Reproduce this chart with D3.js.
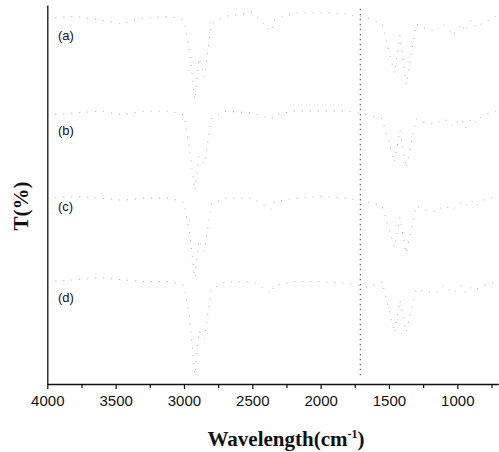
<!DOCTYPE html>
<html><head><meta charset="utf-8">
<script src="https://cdn.jsdelivr.net/npm/d3@7"></script>
<style>html,body{margin:0;padding:0;background:#fff;}svg{display:block;}</style>
</head><body><svg id="c" width="499" height="452"></svg>
<script>
// Wavenumbers (cm^-1) sampled along each spectrum
const wavenumbers = [4000,3800,3600,3450,3300,3100,3000,2960,2920,2890,2850,2800,2700,2500,2360,2340,2200,2000,1800,1740,1710,1650,1550,1460,1420,1375,1300,1250,1160,1100,1030,970,940,900,860,810,760,720,700];
// Stacked transmittance traces (arbitrary offset units)
const seriesA = [96.5,97,96,95,96.5,97,96,88,75,86,81,95,97,98,93,96,98,98,97.5,97,97,96.5,95,82,92,79,95,94,93,95,92,95,93,96,94,95.5,96,97,97];
const seriesB = [71,71.5,72,71,72,72,71,62,51,60,58,70,72,71.5,70,71,72,72,72,71.5,71.5,71,70,58.5,67,57,70,69,68.5,70,68,70,67.5,70,69,71,71.5,72,73];
const seriesC = [49,49.5,49,48.5,49,49,48,40,28,38,35,47.5,49,49,46,48,49,49.5,49,48.5,48.5,48,47,36,44,34.5,47,46,45.5,47,46,48,47,48.5,47,48.5,49,49.5,50];
const seriesD = [27,27.5,28,27.5,27,27,26,18,2.5,14,12,25,27,27,24,26,27,27,26.5,26,26,25.5,27,13.5,22,13.7,25,24.5,24,26,24,26,24,25.5,25,26,26.5,27,27];
const seriesNames = ["(a)","(b)","(c)","(d)"];
const labelLevels = [92, 67, 47, 23];
const majorTicks = [4000,3500,3000,2500,2000,1500,1000];
const minorTicks = [3750,3250,2750,2250,1750,1250,750];
const markerLine = [1710];

const svg = d3.select("#c");
const x = d3.scaleLinear().domain([4000,700]).range([47.3,498.3]);
const y = d3.scaleLinear().domain([0,100]).range([384,5]);

// spectra (faint, broken traces as in the scan)
const line = d3.line().x(d=>x(d[0])).y(d=>y(d[1]));
[seriesA,seriesB,seriesC,seriesD].forEach(s=>{
  svg.append("path").datum(wavenumbers.map((w,i)=>[w,s[i]]))
    .attr("d",line).attr("fill","none").attr("stroke","#a8a8a8")
    .attr("stroke-width",1).attr("stroke-dasharray","1,7");
});

// dotted marker line
svg.selectAll(".mk").data(markerLine).enter().append("line")
  .attr("x1",d=>x(d)).attr("x2",d=>x(d)).attr("y1",y(99)).attr("y2",y(2))
  .attr("stroke","#444").attr("stroke-width",1).attr("stroke-dasharray","1.5,3.5");

// series labels
svg.selectAll(".lab").data(seriesNames).enter().append("text")
  .attr("x",58).attr("y",(d,i)=>y(labelLevels[i])+5)
  .attr("font-family","Arial, Liberation Sans, sans-serif").attr("font-size",13)
  .attr("fill","#111").text(d=>d);

// bottom axis
const xAxis = d3.axisBottom(x).tickValues(majorTicks).tickSize(5).tickSizeOuter(0).tickPadding(6).tickFormat(d3.format("d"));
const gx = svg.append("g").attr("transform","translate(0,384)").call(xAxis);
gx.select(".domain").attr("stroke","#111").attr("stroke-width",1.3);
gx.selectAll(".tick line").attr("stroke","#111").attr("stroke-width",1.2);
gx.selectAll("text").attr("font-family","Arial, Liberation Sans, sans-serif").attr("font-size",15).attr("fill","#111");
const xMinor = d3.axisBottom(x).tickValues(minorTicks).tickSize(4).tickSizeOuter(0).tickFormat("");
const gm = svg.append("g").attr("transform","translate(0,384)").call(xMinor);
gm.select(".domain").remove();
gm.selectAll(".tick line").attr("stroke","#111").attr("stroke-width",1.2);

// left axis (no labels)
const yAxis = d3.axisLeft(y).tickValues([]).tickSizeOuter(0);
const gy = svg.append("g").attr("transform","translate(47.3,0)").call(yAxis);
gy.select(".domain").attr("stroke","#111").attr("stroke-width",1.3);

// axis titles
svg.append("text").attr("x",286).attr("y",446).attr("text-anchor","middle")
  .attr("font-family","Liberation Serif, Times New Roman, serif").attr("font-weight","bold").attr("font-size",21).attr("fill","#111")
  .html('Wavelength(cm<tspan dy="-8" font-size="12">-1</tspan><tspan dy="8">)</tspan>');
svg.append("text").attr("transform","translate(28,206) rotate(-90)").attr("text-anchor","middle")
  .attr("font-family","Liberation Serif, Times New Roman, serif").attr("font-weight","bold").attr("font-size",21).attr("fill","#111")
  .text("T(%)");
</script></body></html>
